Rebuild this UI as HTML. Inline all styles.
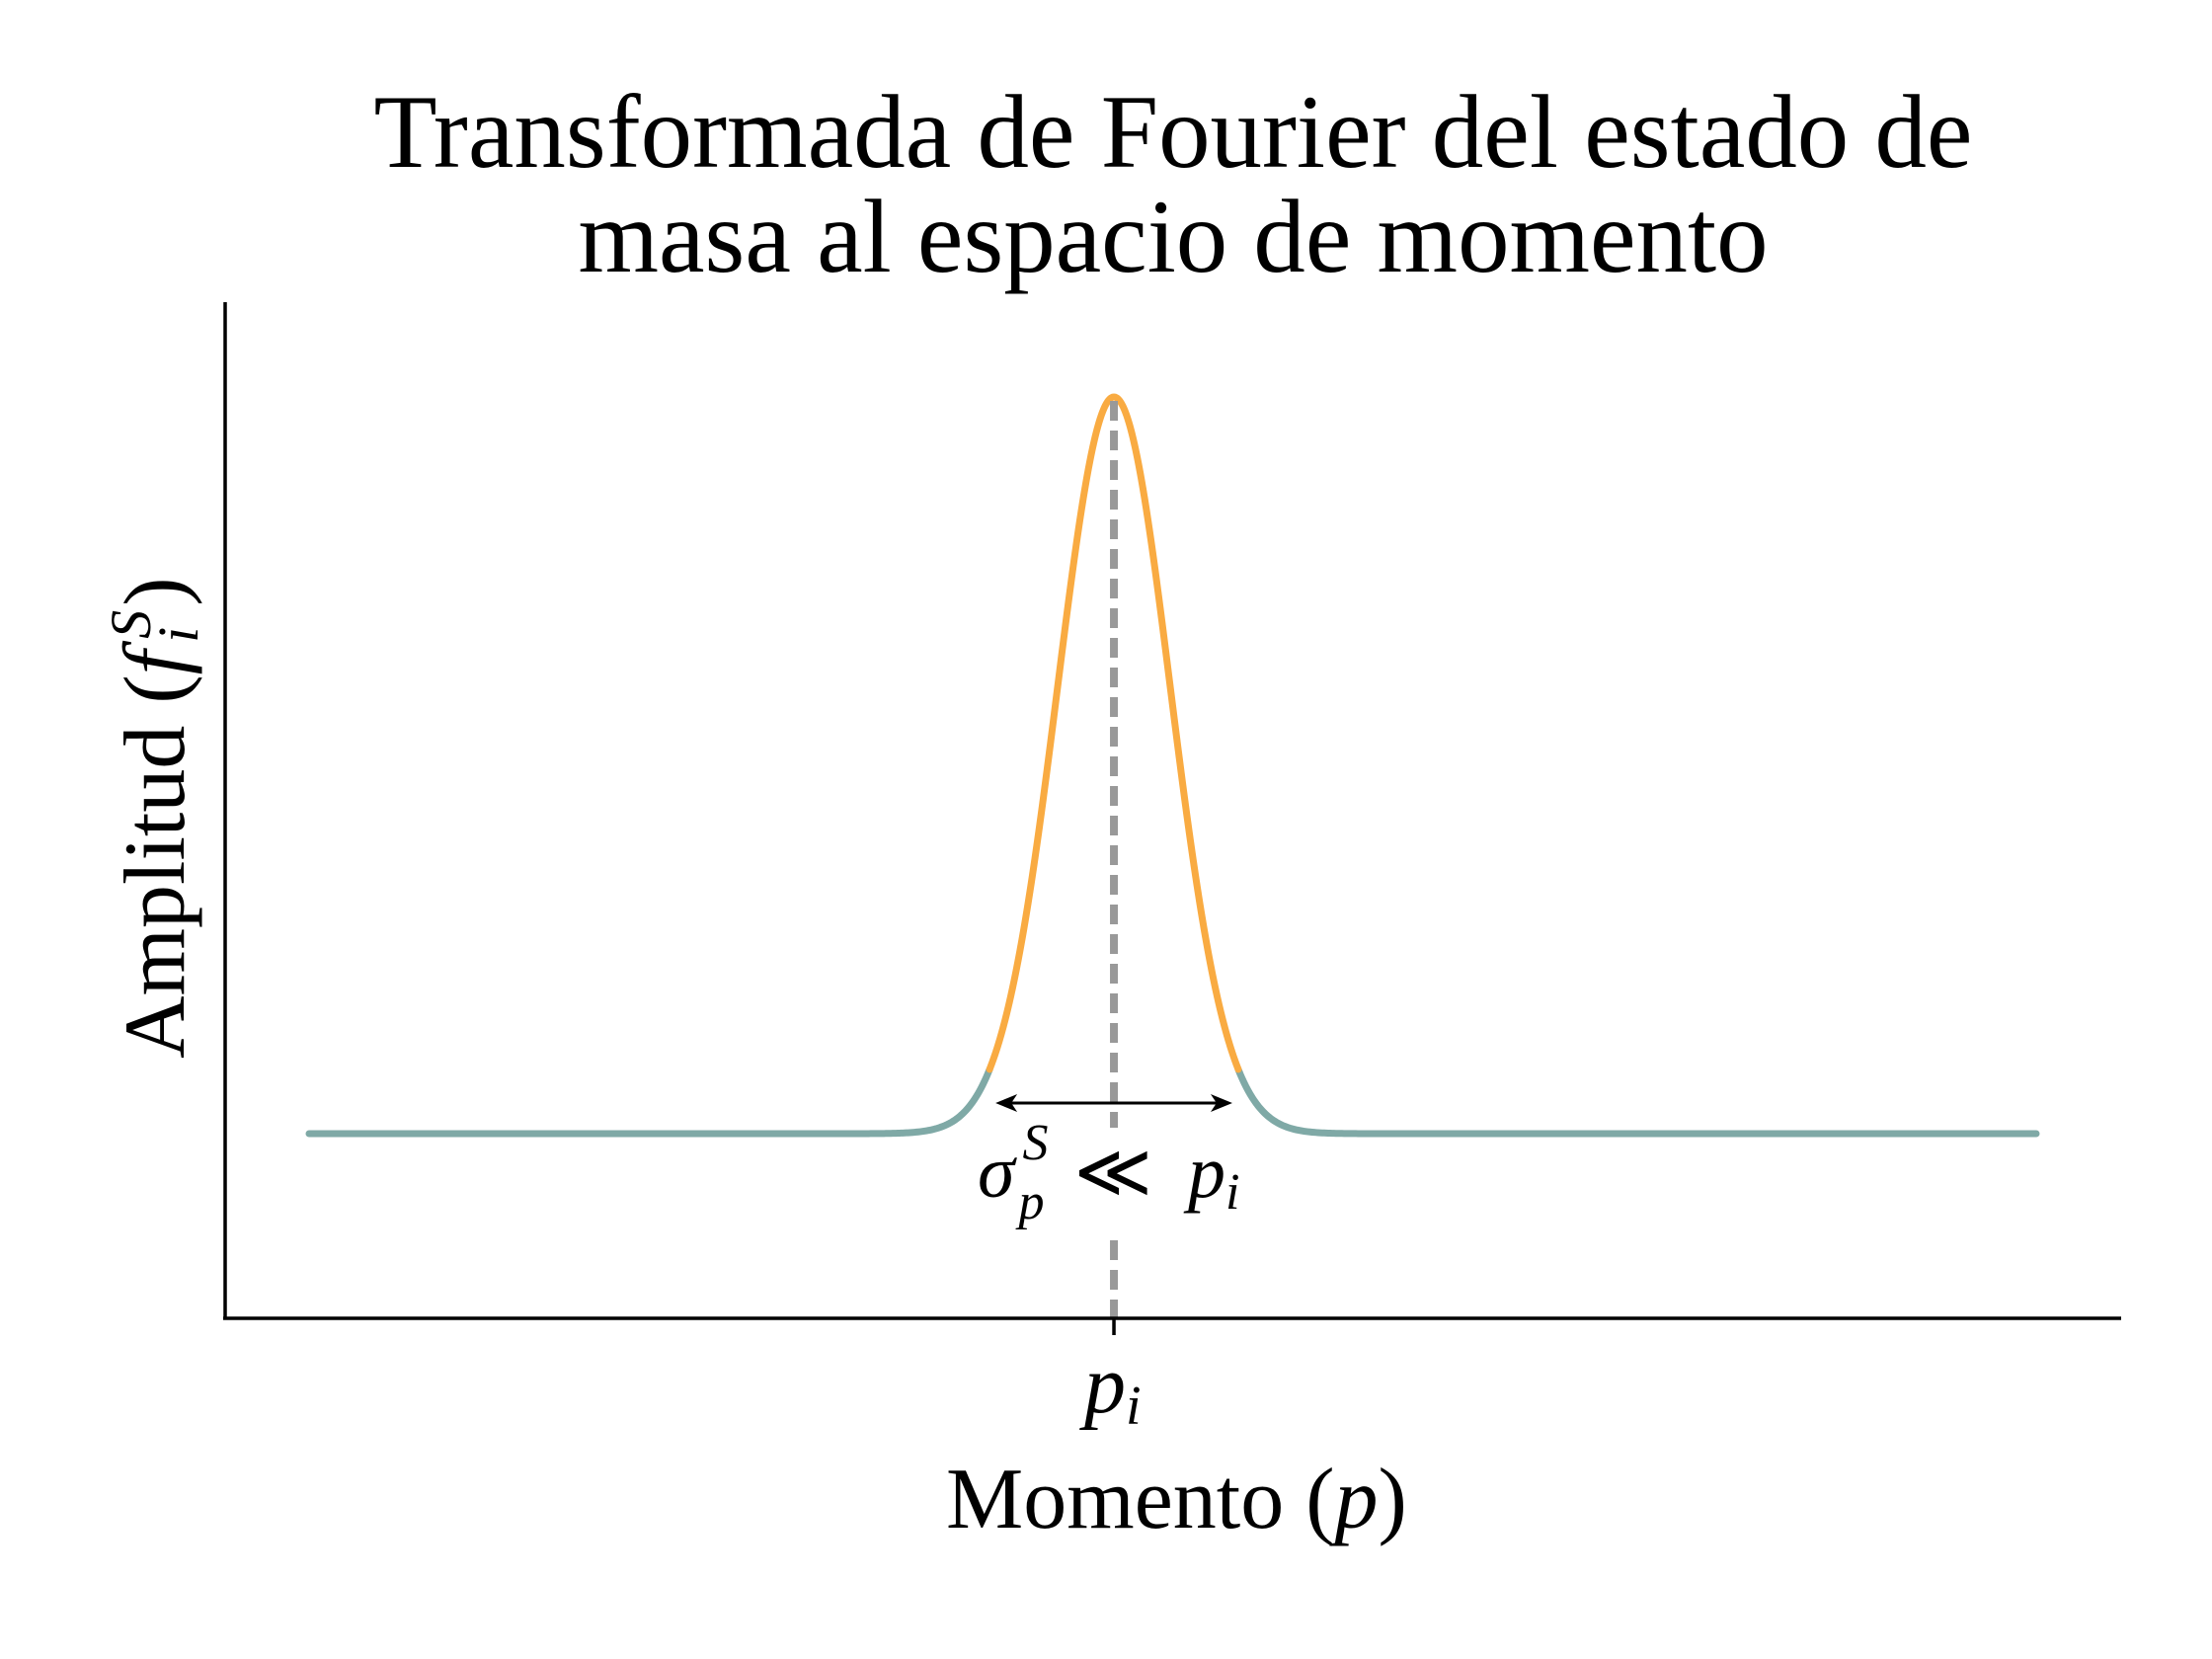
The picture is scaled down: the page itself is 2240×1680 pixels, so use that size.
<!DOCTYPE html>
<html><head><meta charset="utf-8"><style>
html,body{margin:0;padding:0;background:#fff;}
svg{display:block;}
text{font-family:"Liberation Serif","DejaVu Serif",serif;fill:#000;}
.m{font-style:italic;}
</style></head><body>
<svg id="chart" width="2240" height="1680" viewBox="0 0 2240 1680" xmlns="http://www.w3.org/2000/svg">
<text x="1188" y="169" font-size="106" text-anchor="middle" textLength="1619" lengthAdjust="spacingAndGlyphs">Transformada de Fourier del estado de</text>
<text x="1188" y="275" font-size="106" text-anchor="middle" textLength="1205" lengthAdjust="spacingAndGlyphs">masa al espacio de momento</text>
<g id="plot"></g>
<line x1="228" y1="306" x2="228" y2="1336" stroke="#000" stroke-width="3.5"/>
<line x1="226" y1="1335" x2="2148" y2="1335" stroke="#000" stroke-width="3.5"/>
<text x="958" y="1547" font-size="88">Momento (<tspan class="m">p</tspan>)</text>
<text transform="translate(186,1072) rotate(-90)" font-size="88">Amplitud (<tspan class="m">f</tspan><tspan class="m" font-size="58" dx="8" dy="14">i</tspan><tspan class="m" font-size="58" dx="-12" dy="-48">S</tspan><tspan dx="4" dy="34">)</tspan></text>
</svg>
<script>
const xDomain = [0, 10];
const peakCenter = [4.66];
const peakSigma = [0.326];
const peakAmplitude = [1.0];
const baselineValue = [0.0];
const highlightHalfWidth = [0.72];
const tickValues = [4.66];
const tickLabels = ["p"];

const X0 = 313, X1 = 2062, Y0 = 1148, Y1 = 402;
function sx(v){ return X0 + (v - xDomain[0]) / (xDomain[1] - xDomain[0]) * (X1 - X0); }
function sy(v){ return Y0 - (v - baselineValue[0]) / (peakAmplitude[0]) * (Y0 - Y1); }
function model(x){ return baselineValue[0] + peakAmplitude[0] * Math.exp(-0.5 * Math.pow((x - peakCenter[0]) / peakSigma[0], 2)); }

const NS = "http://www.w3.org/2000/svg";
const g = document.getElementById('plot');
function pathFor(a, b){
  let d = "", n = 400;
  for (let i = 0; i <= n; i++){ const x = a + (b - a) * i / n; d += (i ? "L" : "M") + sx(x).toFixed(2) + "," + sy(model(x)).toFixed(2); }
  return d;
}
const lo = peakCenter[0] - highlightHalfWidth[0], hi = peakCenter[0] + highlightHalfWidth[0];
[[xDomain[0], lo, '#7fa9a6', 'curve-left-tail'], [hi, xDomain[1], '#7fa9a6', 'curve-right-tail'], [lo, hi, '#f9ab42', 'curve-peak']].forEach(s => {
  const p = document.createElementNS(NS, 'path');
  p.setAttribute('d', pathFor(s[0], s[1]));
  p.setAttribute('fill', 'none');
  p.setAttribute('stroke', s[2]);
  p.setAttribute('stroke-width', '7');
  p.setAttribute('stroke-linecap', 'round');
  
  
  g.appendChild(p);
});
const cx = sx(peakCenter[0]);
const d1 = document.createElementNS(NS, 'line');
d1.setAttribute('x1', cx); d1.setAttribute('x2', cx); d1.setAttribute('y1', sy(model(peakCenter[0])) + 4); d1.setAttribute('y2', 1142);
d1.setAttribute('stroke', '#999'); d1.setAttribute('stroke-width', '8'); d1.setAttribute('stroke-dasharray', '20 10');


g.appendChild(d1);
const d2 = document.createElementNS(NS, 'line');
d2.setAttribute('x1', cx); d2.setAttribute('x2', cx); d2.setAttribute('y1', 1256); d2.setAttribute('y2', 1335);
d2.setAttribute('stroke', '#999'); d2.setAttribute('stroke-width', '8'); d2.setAttribute('stroke-dasharray', '20 10');


g.appendChild(d2);
const ax0 = sx(lo) + 6, ax1 = sx(hi) - 6, ay = 1117;
const ar = document.createElementNS(NS, 'line');
ar.setAttribute('x1', ax0 + 10); ar.setAttribute('x2', ax1 - 10); ar.setAttribute('y1', ay); ar.setAttribute('y2', ay);
ar.setAttribute('stroke', '#000'); ar.setAttribute('stroke-width', '3');


g.appendChild(ar);
const hl = document.createElementNS(NS, 'path');
hl.setAttribute('d', `M${ax0},${ay} L${ax0+22},${ay-9} L${ax0+16},${ay} L${ax0+22},${ay+9} Z M${ax1},${ay} L${ax1-22},${ay-9} L${ax1-16},${ay} L${ax1-22},${ay+9} Z`);
hl.setAttribute('fill', '#000');


g.appendChild(hl);
const an = document.createElementNS(NS, 'text');
an.setAttribute('x', 990); an.setAttribute('y', 1212); an.setAttribute('font-size', '76');
an.innerHTML = '<tspan class="m">σ</tspan><tspan class="m" font-size="52" dx="4" dy="22">p</tspan><tspan class="m" font-size="52" dx="-22" dy="-60">S</tspan><tspan font-family="DejaVu Serif" font-weight="normal" dx="26" dy="38">≪</tspan><tspan class="m" dx="36">p</tspan><tspan class="m" font-size="52" dy="12">i</tspan>';


g.appendChild(an);
tickValues.forEach((t, i) => {
  const tk = document.createElementNS(NS, 'line');
  tk.setAttribute('x1', sx(t)); tk.setAttribute('x2', sx(t)); tk.setAttribute('y1', 1335); tk.setAttribute('y2', 1352);
  tk.setAttribute('stroke', '#000'); tk.setAttribute('stroke-width', '3.5');
  
  
  g.appendChild(tk);
  const tl = document.createElementNS(NS, 'text');
  tl.setAttribute('x', sx(t) - 30); tl.setAttribute('y', 1430); tl.setAttribute('font-size', '84');
  tl.innerHTML = '<tspan class="m">' + tickLabels[i] + '</tspan><tspan class="m" font-size="56" dy="12">i</tspan>';
  
  
  g.appendChild(tl);
});
</script>
</body></html>
